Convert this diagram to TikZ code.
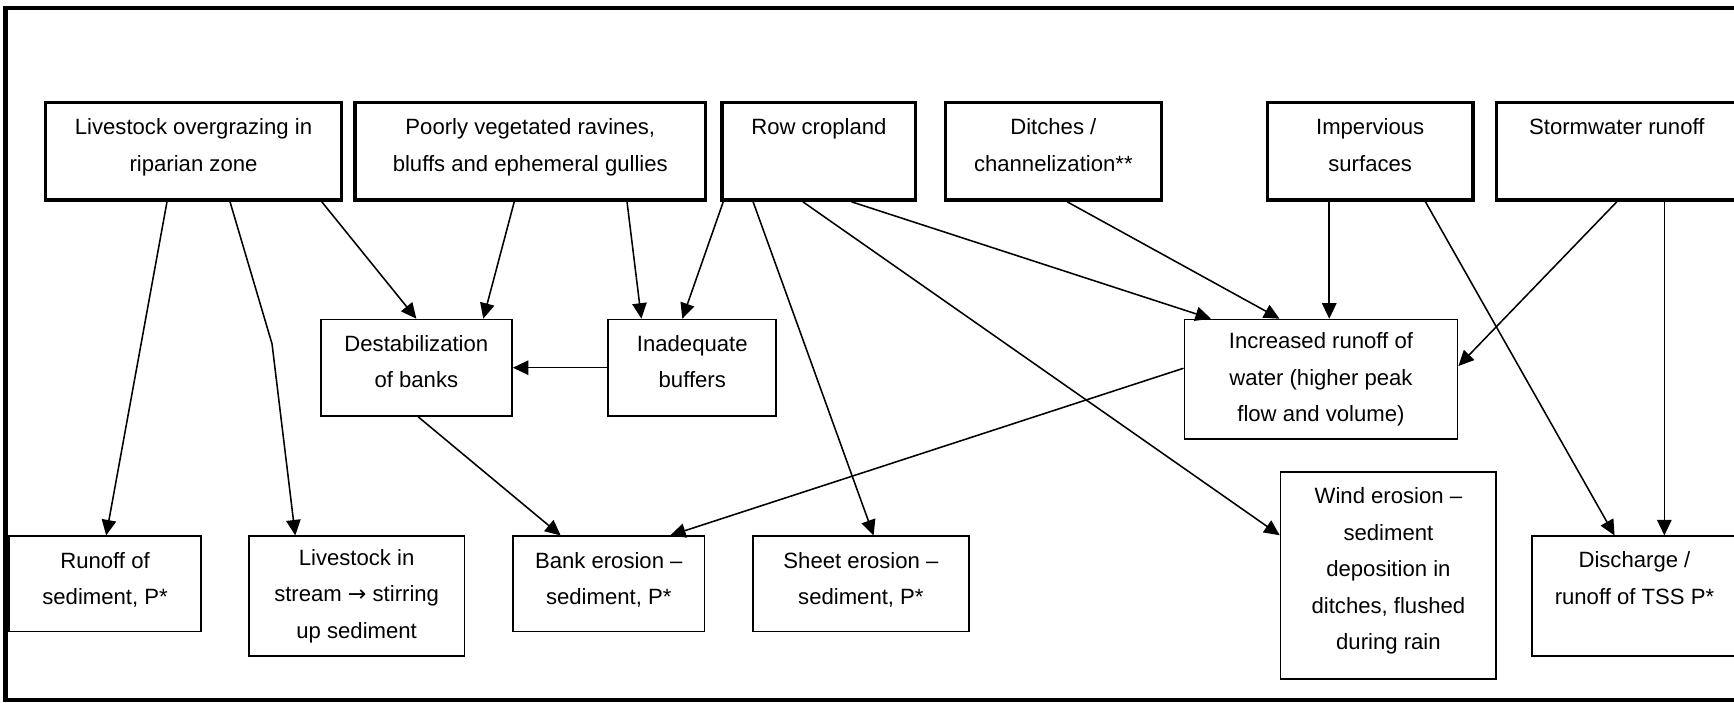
\documentclass[tikz,border=0pt]{standalone}
\usepackage{fontspec}
\setmainfont{Liberation Sans}
\newfontfamily\arrowfont{DejaVu Sans}
\usetikzlibrary{arrows.meta,positioning}

\begin{document}
\begin{tikzpicture}[>={Triangle[length=7pt,width=6.5pt]}, line width=0.7pt,
	box/.style={draw, line width=0.8pt, align=center, font=\fontsize{10}{16.5}\selectfont, inner sep=0pt},
	deep/.style={execute at end node={\rule[-#1]{0pt}{0pt}}},
	topbox/.style={box, deep=6pt, line width=1.5pt, minimum height=44pt}]
	\useasboundingbox (0pt, 0pt) rectangle (784pt, -317.5pt);
	\draw[line width=2pt] (2.5pt, -3.5pt) rectangle (800pt, -316.5pt);
	% sources
	\draw (87.5pt, -68.5pt)node[topbox, minimum width=134pt](lsg){Livestock overgrazing in\\riparian zone};
	\draw (239.75pt, -68.5pt)node[topbox, minimum width=158.5pt](rav){Poorly vegetated ravines,\\bluffs and ephemeral gullies};
	\draw (370.25pt, -68.5pt)node[topbox, minimum width=87.5pt](crop){Row cropland\\~};
	\draw (476.25pt, -68.5pt)node[topbox, minimum width=97.5pt](ditch){Ditches /\\channelization**};
	\draw (619.5pt, -68.5pt)node[topbox, minimum width=93pt](imperv){Impervious\\surfaces};
	\draw (731pt, -68.5pt)node[topbox, minimum width=109pt](storm){Stormwater runoff\\~};
	% intermediate
	\draw (188.25pt, -166.25pt)node[box, deep=5.5pt, minimum width=86.5pt, minimum height=43.5pt](destab){Destabilization\\of banks};
	\draw (313pt, -166.25pt)node[box, deep=5.5pt, minimum width=76pt, minimum height=43.5pt](buffer){Inadequate\\buffers};
	\draw (597.25pt, -171.5pt)node[box, minimum width=123.5pt, minimum height=54pt](runoff){Increased runoff of\\water (higher peak\\flow and volume)};
	% outcomes
	\draw (47.5pt, -264pt)node[box, deep=5pt, minimum width=87pt, minimum height=43pt](sedrun){Runoff of\\sediment, P*};
	\draw (161.25pt, -269.5pt)node[box, minimum width=97.5pt, minimum height=54pt](stream){Livestock in\\stream {\arrowfont →} stirring\\up sediment};
	\draw (275.25pt, -264pt)node[box, deep=5pt, minimum width=86.5pt, minimum height=43pt](bank){Bank erosion –\\sediment, P*};
	\draw (389.25pt, -264pt)node[box, deep=5pt, minimum width=97.5pt, minimum height=43pt](sheet){Sheet erosion –\\sediment, P*};
	\draw (627.75pt, -260.25pt)node[box, deep=6pt, minimum width=97.5pt, minimum height=93.5pt](wind){Wind erosion –\\sediment\\deposition in\\ditches, flushed\\during rain};
	\draw (739pt, -269.5pt)node[box, minimum width=93pt, minimum height=54pt](disch){Discharge /\\runoff of TSS P*\\~};
	\coordinate (kink) at (123pt, -155.5pt);
	\path[->] ([xshift=-12pt]lsg.south) edge ([xshift=0.5pt]sedrun.north);
	\draw[->] ([xshift=16.5pt]lsg.south) -- (kink) -- ([xshift=-27.75pt]stream.north);
	\path[->] ([xshift=58pt]lsg.south) edge (destab.north);
	\path[->] ([xshift=-7.25pt]rav.south) edge ([xshift=30.25pt]destab.north);
	\path[->] ([xshift=43.75pt]rav.south) edge ([xshift=-23pt]buffer.north);
	\path[->] ([xshift=-43.25pt]crop.south) edge ([xshift=-4.5pt]buffer.north);
	\path[->] ([xshift=-29.75pt]crop.south) edge ([xshift=5.75pt]sheet.north);
	\path[->] ([xshift=-7.25pt]crop.south) edge ([yshift=18.25pt]wind.west);
	\path[->] ([xshift=14.75pt]crop.south) edge ([xshift=-49.75pt]runoff.north);
	\path[->] ([xshift=6.25pt]ditch.south) edge ([xshift=-18.75pt]runoff.north);
	\path[->] ([xshift=-18.5pt]imperv.south) edge ([xshift=3.75pt]runoff.north);
	\path[->] ([xshift=25pt]imperv.south) edge ([xshift=-9pt]disch.north);
	\path[->] (storm.south) edge ([yshift=6pt]runoff.east);
	\path[->] ([xshift=21.5pt]storm.south) edge ([xshift=13.5pt]disch.north);
	\path[->] (buffer.west) edge (destab.east);
	\path[->] ([xshift=0.75pt]destab.south) edge ([xshift=-21.75pt]bank.north);
	\path[->] ([yshift=5pt]runoff.west) edge ([xshift=27.75pt]bank.north);
\end{tikzpicture}
\end{document}
